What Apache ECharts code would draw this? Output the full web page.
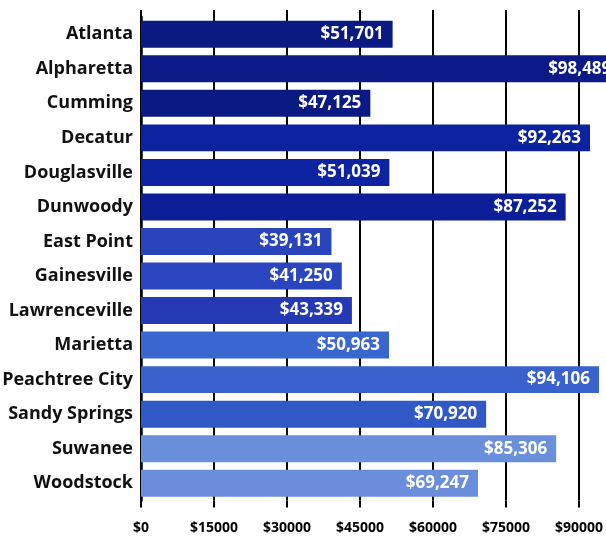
<!DOCTYPE html>
<html>
<head>
<meta charset="utf-8">
<script src="https://cdn.jsdelivr.net/npm/echarts@6/dist/echarts.min.js"></script>
<style>
html,body{margin:0;padding:0;background:#fff;}
#chart{width:606px;height:540px;}
</style>
</head>
<body>
<div id="chart"></div>
<script>
var categories = ["Atlanta","Alpharetta","Cumming","Decatur","Douglasville","Dunwoody","East Point","Gainesville","Lawrenceville","Marietta","Peachtree City","Sandy Springs","Suwanee","Woodstock"];
var incomes = [51701,98489,47125,92263,51039,87252,39131,41250,43339,50963,94106,70920,85306,69247];
var barColors = ["#0a1a80","#0b1a86","#0a1a82","#0c22a0","#0d23a2","#0c1e98","#2a44bc","#2a45c0","#2639b4","#3a66d0","#3a62cc","#3058c6","#6a90dc","#6a8edc"];
var ticks = [0,15000,30000,45000,60000,75000,90000,105000];

var chart = echarts.init(document.getElementById('chart'));
var font = '"Open Sans", sans-serif';
function fmtComma(v){ return '$' + v.toString().replace(/\B(?=(\d{3})+(?!\d))/g, ','); }

var data = incomes.map(function(v, i){
  return { value: v, itemStyle: { color: barColors[i] } };
});

chart.setOption({
  animation: false,
  backgroundColor: '#ffffff',
  grid: { left: 141, top: 17, width: 511, bottom: 39.5, containLabel: false, outerBoundsMode: 'none' },
  xAxis: [{
    type: 'value',
    position: 'bottom',
    min: ticks[0], max: ticks[ticks.length-1], interval: 15000,
    axisLine: { show: false },
    axisTick: { show: true, inside: false, length: 7, lineStyle: { color: '#000', width: 2 } },
    splitLine: { show: true, lineStyle: { color: '#000', width: 2 } },
    axisLabel: { margin: 21, color: '#000', fontFamily: font, fontWeight: 'bold', fontSize: 14,
      formatter: function(v){ return '$' + v; } }
  },{
    type: 'value',
    position: 'top',
    min: ticks[0], max: ticks[ticks.length-1], interval: 15000,
    axisLine: { show: false },
    axisTick: { show: true, inside: false, length: 7, lineStyle: { color: '#000', width: 2 } },
    splitLine: { show: false },
    axisLabel: { show: false }
  }],
  yAxis: {
    type: 'category',
    data: categories,
    inverse: true,
    axisLine: { show: true, lineStyle: { color: '#000', width: 2.5 } },
    axisTick: { show: false },
    axisLabel: { margin: 8, color: '#111', fontFamily: font, fontWeight: 'bold', fontSize: 18 }
  },
  series: [{
    type: 'bar',
    data: data,
    barCategoryGap: '22%',
    clip: false,
    label: {
      show: true,
      position: 'insideRight',
      distance: 9,
      color: '#fff',
      fontFamily: font,
      fontWeight: 'bold',
      fontSize: 17,
      formatter: function(p){ return fmtComma(p.value); }
    }
  }]
});
</script>
</body>
</html>
